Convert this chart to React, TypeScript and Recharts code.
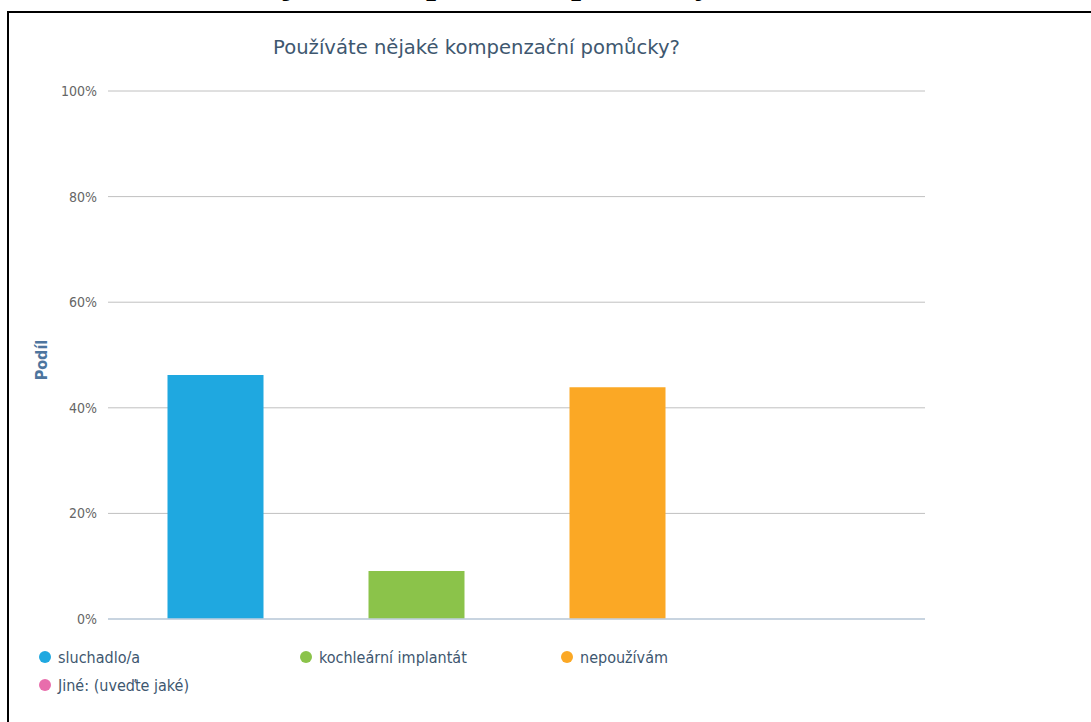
import React from 'react';
import { BarChart, Bar, XAxis, YAxis, CartesianGrid, Cell } from 'recharts';

const categories = ['sluchadlo/a', 'kochleární implantát', 'nepoužívám', 'Jiné: (uveďte jaké)'];
const shares = [46.2, 9.1, 43.9, 0];
const colors = ['#1FA8E0', '#8BC34A', '#FBA825', '#E86DAC'];
const yTicks = [0, 20, 40, 60, 80, 100];
const title = 'Používáte nějaké kompenzační pomůcky?';
const yLabel = 'Podíl';
const docText = 'jaké kompenzační pomůcky';

const data = categories.map((name, i) => ({ name, value: shares[i] }));

const FONT = "'DejaVu Sans Condensed', 'DejaVu Sans', sans-serif";

const YLabel = (props: any) => {
  const vb = props.viewBox || {};
  const cy = vb.y + vb.height / 2 + 5;
  const cx = 41;
  return (
    <text
      x={cx}
      y={cy}
      transform={`rotate(-90 ${cx} ${cy})`}
      textAnchor="middle"
      dominantBaseline="central"
      fill="#4D759E"
      fontWeight="bold"
      fontSize={16}
      fontFamily={FONT}
    >
      {yLabel}
    </text>
  );
};

export default function App() {
  return (
    <div style={{ position: 'fixed', left: 0, top: 0, width: 1091, height: 722, overflow: 'hidden', background: '#fff' }}>
      <div style={{ position: 'absolute', left: 0, top: 0, width: 1091, height: 6, overflow: 'hidden' }}>
        <div
          style={{
            position: 'absolute',
            left: 283,
            top: -37,
            fontFamily: "'Liberation Serif', 'DejaVu Serif', serif",
            fontSize: 36,
            lineHeight: '36px',
            fontWeight: 'bold',
            whiteSpace: 'nowrap',
            color: '#000',
          }}
        >
          {docText}
        </div>
      </div>
      <div style={{ position: 'absolute', left: 7, top: 11, width: 1200, height: 800, borderTop: '2px solid #000', borderLeft: '2px solid #000' }} />
      <div
        style={{
          position: 'absolute',
          left: 0,
          top: 35,
          width: 953,
          textAlign: 'center',
          fontFamily: "'DejaVu Sans', sans-serif",
          fontSize: 19.6,
          lineHeight: '26px',
          color: '#3E576F',
          whiteSpace: 'nowrap',
        }}
      >
        {title}
      </div>
      <div style={{ position: 'absolute', left: 0, top: 0 }}>
        <BarChart width={940} height={660} data={data} margin={{ top: 91, right: 15, bottom: 0, left: 28 }}>
          <CartesianGrid vertical={false} stroke="#C0C0C0" strokeWidth={1} />
          <XAxis
            dataKey="name"
            height={41}
            tick={false}
            axisLine={{ stroke: '#C0D0E0', strokeWidth: 1.5 }}
            tickLine={{ stroke: '#C0D0E0', strokeWidth: 1.5 }}
            tickSize={7}
            padding={{ left: 6.5, right: 6.5 }}
          />
          <YAxis
            width={80}
            domain={[0, 100]}
            ticks={yTicks}
            tickFormatter={(v: number) => `${v}%`}
            axisLine={false}
            tickLine={false}
            tickSize={0}
            tickMargin={11}
            tick={{ fill: '#666666', fontSize: 14, fontFamily: FONT }}
            label={<YLabel />}
          />
          <Bar dataKey="value" barSize={96} isAnimationActive={false}>
            {data.map((d, i) => (
              <Cell key={d.name} fill={colors[i]} />
            ))}
          </Bar>
        </BarChart>
      </div>
      <div style={{ position: 'absolute', left: 39, top: 643, width: 783, display: 'flex', flexWrap: 'wrap' }}>
        {categories.map((c, i) => (
          <div key={c} style={{ width: 261, height: 28, display: 'flex', alignItems: 'center' }}>
            <span style={{ width: 12, height: 12, borderRadius: 6, background: colors[i], display: 'inline-block', marginRight: 7 }} />
            <span style={{ fontFamily: FONT, fontSize: 16, color: '#3E576F', whiteSpace: 'nowrap' }}>{c}</span>
          </div>
        ))}
      </div>
    </div>
  );
}
